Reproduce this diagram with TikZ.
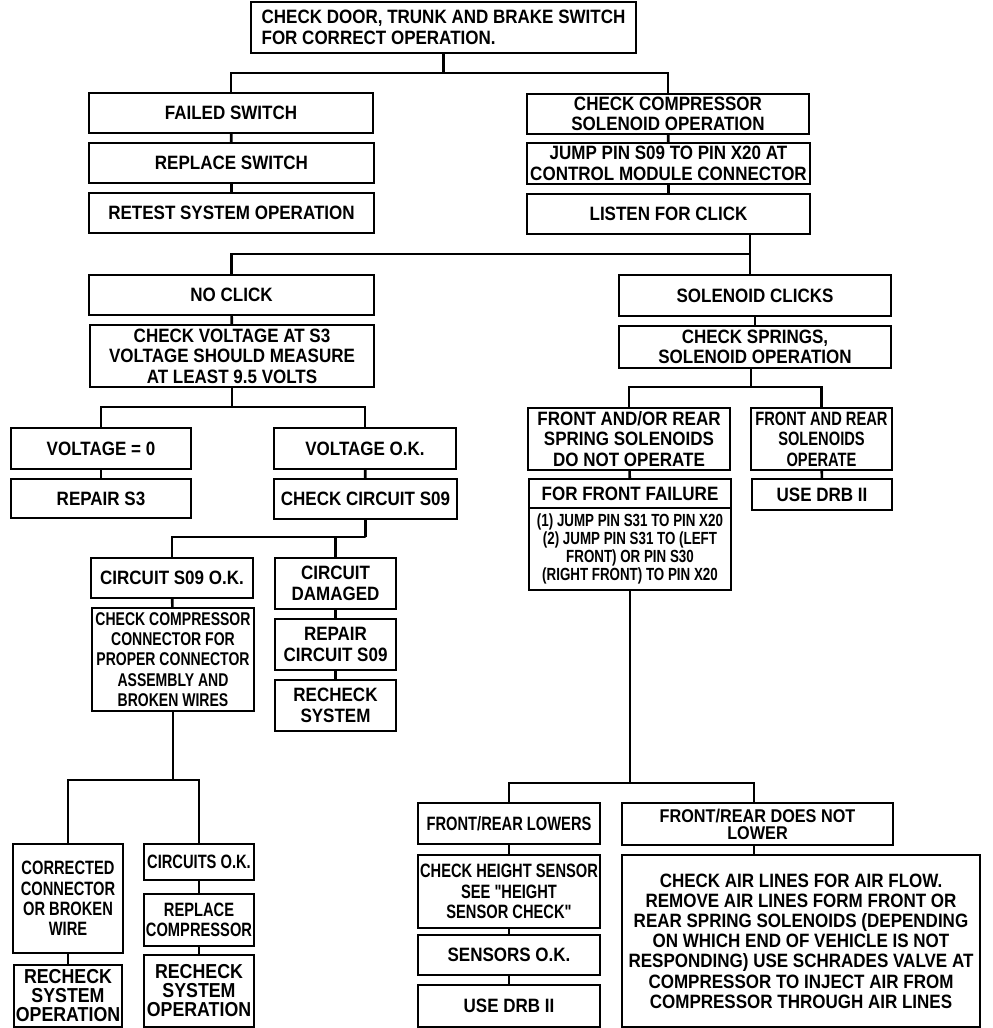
\documentclass[tikz,border=0pt]{standalone}
\usepackage{fontspec}
\setmainfont{Liberation Sans}[FakeStretch=0.88]
\newfontfamily\condfont{Liberation Sans}[FakeStretch=0.76]
\usepackage{tikz}

\tikzset{
  box/.style 2 args={draw, line width=1.2pt, align=center, inner sep=1pt,
    minimum width={#1*0.02cm}, minimum height={#2*0.02cm},
    font=\bfseries\fontsize{11}{11.6}\selectfont},
  cond/.style={font=\condfont\bfseries\fontsize{11}{11.6}\selectfont},
  big/.style={font=\bfseries\fontsize{11.5}{10.8}\selectfont},
  link/.style={line width=1.5pt},
}

\begin{document}
\begin{tikzpicture}[x=0.02cm, y=-0.02cm]

  \useasboundingbox (0,0) rectangle (992,1028);

  % start
  \node[box={385}{51}, align=left] (top) at (443.5,27.5)
    {CHECK DOOR, TRUNK AND BRAKE SWITCH\\FOR CORRECT OPERATION.};

  % switch branch
  \node[box={284}{40}] (failed) at (231,113) {FAILED SWITCH};
  \node[box={285}{40}] (replsw) at (231.5,163) {REPLACE SWITCH};
  \node[box={285}{40}] (retest) at (231.5,213) {RETEST SYSTEM OPERATION};

  % compressor branch
  \node[box={282}{40}] (chkcomp) at (668,114) {CHECK COMPRESSOR\\SOLENOID OPERATION};
  \node[box={283}{41}] (jump) at (668.5,163.5) {JUMP PIN S09 TO PIN X20 AT\\CONTROL MODULE CONNECTOR};
  \node[box={283}{40}] (listen) at (668.5,214) {LISTEN FOR CLICK};

  % no click
  \node[box={285}{40}] (noclick) at (231.5,295) {NO CLICK};
  \node[box={284}{62}] (chkvolt) at (232,356)
    {CHECK VOLTAGE AT S3\\VOLTAGE SHOULD MEASURE\\AT LEAST 9.5 VOLTS};
  \node[box={180}{41}] (volt0) at (101,448.5) {VOLTAGE = 0};
  \node[box={180}{39}] (repS3) at (101,498.5) {REPAIR S3};
  \node[box={182}{41}] (voltok) at (365,448.5) {VOLTAGE O.K.};
  \node[box={183}{40}] (chkS09) at (365.5,499) {CHECK CIRCUIT S09};
  \node[box={162}{40}] (s09ok) at (172,578) {CIRCUIT S09 O.K.};
  \node[box={162}{103}, cond, font=\condfont\bfseries\fontsize{10.5}{11.6}\selectfont] (chkconn) at (173,659.5)
    {CHECK COMPRESSOR\\CONNECTOR FOR\\PROPER CONNECTOR\\ASSEMBLY AND\\BROKEN WIRES};
  \node[box={121}{51}] (damaged) at (335.5,583.5) {CIRCUIT\\DAMAGED};
  \node[box={121}{51}] (repS09) at (335.5,644.5) {REPAIR\\CIRCUIT S09};
  \node[box={121}{51}] (recheck1) at (335.5,705.5) {RECHECK\\SYSTEM};
  \node[box={110}{109}, cond] (corr) at (68,898.5) {CORRECTED\\CONNECTOR\\OR BROKEN\\WIRE};
  \node[box={108}{62}, big] (recheck2) at (68,996) {RECHECK\\SYSTEM\\OPERATION};
  \node[box={110}{36}, cond] (cirok) at (199,862) {CIRCUITS O.K.};
  \node[box={110}{52}, cond] (replcomp) at (199,920) {REPLACE\\COMPRESSOR};
  \node[box={110}{72}, big] (recheck3) at (199,991) {RECHECK\\SYSTEM\\OPERATION};

  % solenoid clicks
  \node[box={272}{41}] (solclk) at (755,295.5) {SOLENOID CLICKS};
  \node[box={272}{42}] (chkspr) at (755,347) {CHECK SPRINGS,\\SOLENOID OPERATION};
  \node[box={202}{62}] (nosol) at (629,439) {FRONT AND/OR REAR\\SPRING SOLENOIDS\\DO NOT OPERATE};
  \node[box={202}{29}] (front) at (630,493.5) {FOR FRONT FAILURE};
  \node[box={202}{82}, font=\condfont\bfseries\fontsize{10}{10.4}\selectfont] (jumpS31) at (630,549)
    {(1) JUMP PIN S31 TO PIN X20\\(2) JUMP PIN S31 TO (LEFT\\FRONT) OR PIN S30\\(RIGHT FRONT) TO PIN X20};
  \node[box={141}{62}, cond] (solop) at (821.5,439) {FRONT AND REAR\\SOLENOIDS\\OPERATE};
  \node[box={140}{31}] (drb1) at (822,494.5) {USE DRB II};
  \node[box={182}{41}, cond] (lowers) at (509,823.5) {FRONT/REAR LOWERS};
  \node[box={182}{73}, cond] (chkheight) at (509,891.5) {CHECK HEIGHT SENSOR\\SEE "HEIGHT\\SENSOR CHECK"};
  \node[box={182}{40}] (sensok) at (509,955) {SENSORS O.K.};
  \node[box={182}{42}] (drb2) at (509,1006) {USE DRB II};
  \node[box={271}{42}, font=\bfseries\fontsize{10.5}{9.6}\selectfont] (notlow) at (757.5,824)
    {FRONT/REAR DOES NOT\\LOWER};
  \node[box={358}{172}, font=\bfseries\fontsize{11}{11.5}\selectfont] (airlines) at (801,941)
    {CHECK AIR LINES FOR AIR FLOW.\\REMOVE AIR LINES FORM FRONT OR\\REAR SPRING SOLENOIDS (DEPENDING\\ON WHICH END OF VEHICLE IS NOT\\RESPONDING) USE SCHRADES VALVE AT\\COMPRESSOR TO INJECT AIR FROM\\COMPRESSOR THROUGH AIR LINES};

  % branch points
  \coordinate (j1) at (443.5,73);
  \coordinate (j2) at (750,254);
  \coordinate (j3) at (232,407);
  \coordinate (j4) at (365.5,537);
  \coordinate (j5) at (751,387);
  \coordinate (j6) at (630,783);
  \coordinate (j7) at (173,780);
  \coordinate (j8) at (754,783);

  \draw[link] (top) -- (j1);
  \draw[link] (failed) |- (j1) -| (chkcomp);
  \draw[link] (listen.south -| j2) -- (j2);
  \draw[link] (noclick) |- (j2) -- (solclk.north -| j2);
  \draw[link] (chkvolt) -- (j3);
  \draw[link] (volt0) |- (j3) -| (voltok);
  \draw[link] (chkS09) -- (j4);
  \draw[link] (s09ok) |- (j4) -| (damaged);
  \draw[link] (chkspr.south -| j5) -- (j5);
  \draw[link] (nosol) |- (j5) -| (solop);
  \draw[link] (jumpS31) -- (j6);
  \draw[link] (lowers) |- (j6) -- (j8) -- (notlow.north -| j8);
  \draw[link] (notlow.south -| j8) -- (airlines.north -| j8);
  \draw[link] (chkconn) -- (j7);
  \draw[link] (corr) |- (j7) -| (cirok);

  % stacked steps
  \foreach \a/\b in {failed/replsw, replsw/retest, chkcomp/jump, jump/listen,
      noclick/chkvolt, solclk/chkspr, volt0/repS3, voltok/chkS09, s09ok/chkconn,
      damaged/repS09, repS09/recheck1, nosol/front, solop/drb1, corr/recheck2,
      cirok/replcomp, replcomp/recheck3, lowers/chkheight, chkheight/sensok,
      sensok/drb2}
    \draw[link] (\a) -- (\b);

\end{tikzpicture}
\end{document}
